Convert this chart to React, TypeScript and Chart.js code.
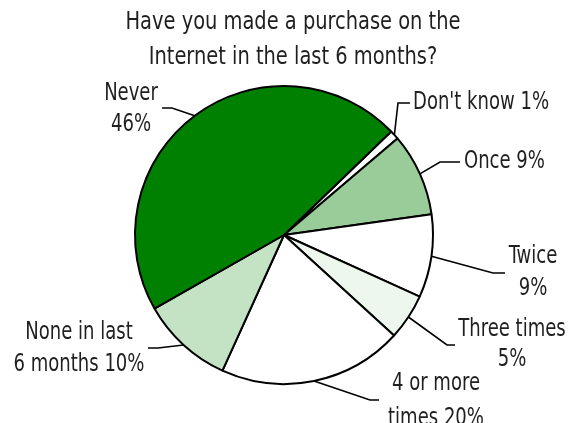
import React, { useEffect, useRef } from "react";
import { Chart, registerables } from "chart.js";

Chart.register(...registerables);

const titleLines = ["Have you made a purchase on the", "Internet in the last 6 months?"];
const categories = ["Don't know", "Once", "Twice", "Three times", "4 or more times", "None in last 6 months", "Never"];
const values = [1, 9, 9, 5, 20, 10, 46];
const labelLines = [
  ["Don't know 1%"],
  ["Once 9%"],
  ["Twice", "9%"],
  ["Three times", "5%"],
  ["4 or more", "times 20%"],
  ["None in last", "6 months 10%"],
  ["Never", "46%"],
];
const sliceColors = ["#ffffff", "#99cc99", "#ffffff", "#eef7ee", "#ffffff", "#c4e3c4", "#008000"];

// label layout: elbow point, end point of leader line, text anchor, alignment and line gap
const labelLayout = [
  { elbow: [398, 103], end: [410, 103], tx: 413, ty: 103, align: "left", gap: 31 },
  { elbow: [440, 162], end: [460, 162], tx: 464, ty: 162, align: "left", gap: 31 },
  { elbow: [493, 273], end: [505, 273], tx: 533, ty: 257, align: "center", gap: 32 },
  { elbow: [447, 345], end: [455, 345], tx: 512, ty: 330, align: "center", gap: 30 },
  { elbow: [370, 400], end: [379, 400], tx: 436, ty: 384, align: "center", gap: 35 },
  { elbow: [158, 348], end: [148, 348], tx: 79, ty: 333, align: "center", gap: 32 },
  { elbow: [172, 108], end: [162, 108], tx: 131, ty: 94, align: "center", gap: 31 },
];

const FONT = '"DejaVu Sans Condensed", "DejaVu Sans", sans-serif';
const LABEL_SIZE = 24;
const LABEL_SCALE = 0.835;
const TITLE_SIZE = 24;
const TITLE_SCALE = 0.9;
const TEXT_COLOR = "#1f1f1f";

function drawText(ctx: CanvasRenderingContext2D, t: string, x: number, y: number, sx: number) {
  ctx.save();
  ctx.translate(x, y);
  ctx.scale(sx, 1);
  ctx.fillText(t, 0, 0);
  ctx.restore();
}

const labelPlugin = {
  id: "leaderLabels",
  afterDraw(chart: any) {
    const ctx = chart.ctx as CanvasRenderingContext2D;
    const meta = chart.getDatasetMeta(0);
    ctx.save();
    ctx.fillStyle = TEXT_COLOR;
    ctx.textBaseline = "middle";
    ctx.textAlign = "center";
    ctx.font = `${TITLE_SIZE}px ${FONT}`;
    titleLines.forEach((t, i) => drawText(ctx, t, 293, 23 + i * 35, TITLE_SCALE));

    meta.data.forEach((arc: any, i: number) => {
      const p = arc.getProps(["x", "y", "startAngle", "endAngle", "outerRadius"], true);
      const mid = (p.startAngle + p.endAngle) / 2;
      const ax = p.x + Math.cos(mid) * p.outerRadius;
      const ay = p.y + Math.sin(mid) * p.outerRadius;
      const L = labelLayout[i];
      ctx.strokeStyle = "#000";
      ctx.lineWidth = 1.6;
      ctx.beginPath();
      ctx.moveTo(ax, ay);
      ctx.lineTo(L.elbow[0], L.elbow[1]);
      ctx.lineTo(L.end[0], L.end[1]);
      ctx.stroke();
      ctx.font = `${LABEL_SIZE}px ${FONT}`;
      ctx.textAlign = L.align as CanvasTextAlign;
      labelLines[i].forEach((t, j) => drawText(ctx, t, L.tx, L.ty + j * L.gap, LABEL_SCALE));
    });
    ctx.restore();
  },
};

export default function App() {
  const ref = useRef<HTMLCanvasElement>(null);
  useEffect(() => {
    const chart = new Chart(ref.current!, {
      type: "pie",
      data: {
        labels: categories,
        datasets: [
          {
            data: values,
            backgroundColor: sliceColors,
            borderColor: "#000",
            borderWidth: 2,
          },
        ],
      },
      options: {
        responsive: false,
        animation: false,
        rotation: 46,
        layout: { padding: { left: 134, right: 134, top: 85, bottom: 38 } },
        plugins: { legend: { display: false }, tooltip: { enabled: false }, title: { display: false } },
      },
      plugins: [labelPlugin],
    });
    return () => chart.destroy();
  }, []);
  return (
    <div style={{ position: "fixed", left: 0, top: 0, width: 568, height: 423, background: "#fff" }}>
      <canvas ref={ref} width={568} height={423} style={{ display: "block" }} />
    </div>
  );
}
